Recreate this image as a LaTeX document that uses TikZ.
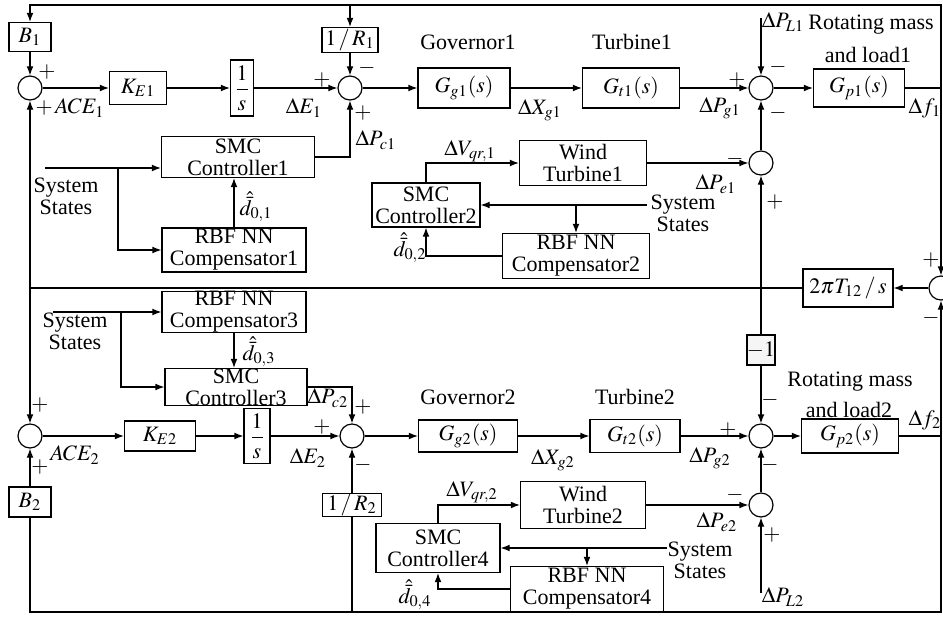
\documentclass[tikz,border=0pt]{standalone}
\usepackage{amsmath}
\usepackage{mathptmx}
\usepackage{fontspec}
\setmainfont{Liberation Serif}
\usetikzlibrary{arrows.meta}
\newcommand{\arrtip}{-{Latex[length=4.5pt,width=3.4pt]}}
\tikzset{
  blk/.style 2 args={draw, minimum width=#1, minimum height=#2, inner sep=0pt,
    align=center, font=\fontsize{11}{11}\selectfont},
  sumj/.style={draw, circle, minimum size=12pt, inner sep=0pt},
  lbl/.style={inner sep=0pt, align=center, font=\fontsize{11}{11}\selectfont},
}

\begin{document}
\begin{tikzpicture}[x=.5pt,y=-.5pt,line width=.6pt]
\useasboundingbox (0,0) rectangle (943,617);
% frame corners
\coordinate (tl) at (30,5);
\coordinate (tr) at (941,5);
\coordinate (bl) at (30,612);
\coordinate (br) at (941,612);
\coordinate (df1) at (941,88);
\coordinate (df2) at (941,436);
\coordinate (tj) at (30,288);
\coordinate (vj) at (761,288);
\coordinate (pl1) at (761,18);
\coordinate (pl2) at (761,593);

%area 1
\node[blk={21pt}{14.5pt}] (B1) at (30,37) {$B_1$};
\node[sumj] (s1) at (30,88) {};
\node[blk={28.5pt}{16.5pt}] (KE1) at (138,88) {$K_{E1}$};
\node[blk={11.5pt}{28pt}] (int1) at (242,88) {$\dfrac{1}{s}$};
\node[blk={28pt}{12.5pt}] (invR1) at (350,40) {$1\,/\,R_1$};
\node[sumj] (s2) at (350,88) {};
\node[blk={46pt}{20pt}] (Gg1) at (464,88) {$G_{g1}(s)$};
\node[blk={48.5pt}{20pt}] (Gt1) at (631,88) {$G_{t1}(s)$};
\node[sumj] (s3) at (761,88) {};
\node[blk={45.5pt}{19pt}] (Gp1) at (859,88) {$G_{p1}(s)$};
\node[sumj] (s4) at (761,163) {};
\node[blk={76.5pt}{20.5pt}] (SMC1) at (238,157) {SMC\\Controller1};
\node[blk={72pt}{22pt}] (RBF1) at (234,250) {RBF NN\\Compensator1};
\node[blk={63.5pt}{22.5pt}] (WT1) at (583,163) {Wind\\Turbine1};
\node[blk={54pt}{22pt}] (SMC2) at (426,205) {SMC\\Controller2};
\node[blk={73.5pt}{22.5pt}] (RBF2) at (576,256) {RBF NN\\Compensator2};
\node[lbl] (ss1) at (66,196) {System\\States};
\node[lbl] (ss2) at (683,213) {System\\States};
\coordinate (ss1in) at (45,168);
\coordinate (br1) at (118,168);
\coordinate (ss2in) at (647,205);

%tie line
\node[blk={45pt}{19pt}] (tie) at (848,288) {$2\pi T_{12}\,/\,s$};
\node[sumj] (stie) at (941,288) {};
\node[blk={13.5pt}{15pt}, fill=gray!8] (neg1) at (761,350) {$-1$};

%area 2
\node[sumj] (s8) at (30,436) {};
\node[blk={21pt}{15pt}] (B2) at (30,502) {$B_2$};
\node[blk={35.5pt}{15pt}] (KE2) at (160,436) {$K_{E2}$};
\node[blk={13pt}{27.5pt}] (int2) at (257,436) {$\dfrac{1}{s}$};
\node[sumj] (s7) at (352,436) {};
\node[blk={29.5pt}{11.5pt}] (invR2) at (352,505) {$1\,/\,R_2$};
\node[blk={49.5pt}{16pt}] (Gg2) at (468,436) {$G_{g2}(s)$};
\node[blk={45pt}{16.5pt}] (Gt2) at (635,436) {$G_{t2}(s)$};
\node[sumj] (s5) at (761,436) {};
\node[blk={48.5pt}{17pt}] (Gp2) at (850,436) {$G_{p2}(s)$};
\node[sumj] (s6) at (761,505) {};
\node[blk={72pt}{19.5pt}] (RBF3) at (234,312) {RBF NN\\Compensator3};
\node[blk={71pt}{18.5pt}] (SMC3) at (236,387) {SMC\\Controller3};
\node[blk={62.5pt}{23.5pt}] (WT2) at (583,505) {Wind\\Turbine2};
\node[blk={62pt}{24.5pt}] (SMC4) at (438,548) {SMC\\Controller4};
\node[blk={76.5pt}{22.5pt}] (RBF4) at (587,589) {RBF NN\\Compensator4};
\node[lbl] (ss3) at (75,331) {System\\States};
\node[lbl] (ss4) at (700,560) {System\\States};
\coordinate (ss3in) at (53,312);
\coordinate (br3) at (121,312);
\coordinate (ss4in) at (667,548);

%connectors area 1
\draw (Gp1) -- (df1);
\draw[\arrtip] (df1) -- (tr) -- (tl) -- (B1);
\draw[\arrtip] (invR1 |- tl) -- (invR1);
\draw[\arrtip] (B1) -- (s1);
\draw[\arrtip] (s1) -- (KE1);
\draw[\arrtip] (KE1) -- (int1);
\draw[\arrtip] (int1) -- (s2);
\draw[\arrtip] (invR1) -- (s2);
\draw[\arrtip] (s2) -- (Gg1);
\draw[\arrtip] (Gg1) -- (Gt1);
\draw[\arrtip] (Gt1) -- (s3);
\draw[\arrtip] (s3) -- (Gp1);
\draw[\arrtip] (pl1) -- (s3);
\draw[\arrtip] (s4) -- (s3);
\draw[\arrtip] (WT1) -- (s4);
\draw[\arrtip] (SMC1.east) -| (s2.south);
\draw[\arrtip] (ss1in) -- (SMC1.west |- ss1in);
\draw[\arrtip] (br1) |- (RBF1.west);
\draw[\arrtip] (RBF1.north) -- (RBF1.north |- SMC1.south);
\draw[\arrtip] (SMC2.north) |- (WT1.west);
\draw[\arrtip] (ss2in) -- (SMC2.east);
\draw[\arrtip] (RBF2.north |- SMC2.east) -- (RBF2.north);
\draw[\arrtip] (RBF2.west) -| (SMC2.south);

%connectors tie line
\draw[\arrtip] (df1) -- (stie);
\draw[\arrtip] (df2) -- (stie);
\draw[\arrtip] (stie) -- (tie);
\draw (tie) -- (tj);
\draw[\arrtip] (tj) -- (s1);
\draw[\arrtip] (tj) -- (s8);
\draw[\arrtip] (vj) -- (s4);
\draw (vj) -- (neg1);
\draw[\arrtip] (neg1) -- (s5);

%connectors area 2
\draw (Gp2) -- (df2) -- (br) -- (bl) -- (B2);
\draw[\arrtip] (B2) -- (s8);
\draw[\arrtip] (s8) -- (KE2);
\draw[\arrtip] (KE2) -- (int2);
\draw[\arrtip] (int2) -- (s7);
\draw (invR2 |- bl) -- (invR2);
\draw[\arrtip] (invR2) -- (s7);
\draw[\arrtip] (s7) -- (Gg2);
\draw[\arrtip] (Gg2) -- (Gt2);
\draw[\arrtip] (Gt2) -- (s5);
\draw[\arrtip] (s5) -- (Gp2);
\draw[\arrtip] (s6) -- (s5);
\draw[\arrtip] (WT2) -- (s6);
\draw[\arrtip] (pl2) -- (s6);
\draw[\arrtip] (SMC3.east) -| (s7.north);
\draw[\arrtip] (ss3in) -- (RBF3.west);
\draw[\arrtip] (br3) |- (SMC3.west);
\draw[\arrtip] (RBF3.south) -- (RBF3.south |- SMC3.north);
\draw[\arrtip] (SMC4.north) |- (WT2.west);
\draw[\arrtip] (ss4in) -- (SMC4.east);
\draw[\arrtip] (RBF4.north |- SMC4.east) -- (RBF4.north);
\draw[\arrtip] (RBF4.west) -| (SMC4.south);

%labels area 1
\node[lbl] at (47,72) {$+$};
\node[lbl] at (70,108) {$+\,ACE_1$};
\node[lbl] at (304,108) {$\Delta E_1$};
\node[lbl] at (322,80) {$+$};
\node[lbl] at (367,68) {$-$};
\node[lbl] at (363,113) {$+$};
\node[lbl] at (376,140) {$\Delta P_{c1}$};
\node[lbl] at (468,42) {Governor1};
\node[lbl] at (632,42) {Turbine1};
\node[lbl] at (540,110) {$\Delta X_{g1}$};
\node[lbl] at (737,80) {$+$};
\node[lbl] at (720,108) {$\Delta P_{g1}$};
\node[lbl] at (783,22) {$\Delta P_{L1}$};
\node[lbl] at (871,25) {Rotating mass};
\node[lbl] at (868,55) {and load1};
\node[lbl] at (778,67) {$-$};
\node[lbl] at (778,113) {$-$};
\node[lbl] at (925,108) {$\Delta f_1$};
\node[lbl] at (735,159) {$-$};
\node[lbl] at (716,184) {$\Delta P_{e1}$};
\node[lbl] at (775,202) {$+$};
\node[lbl] at (470,151) {$\Delta V_{qr,1}$};
\node[lbl] at (410,248) {$\hat{\bar{d}}_{0,2}$};
\node[lbl] at (256,207) {$\hat{\bar{d}}_{0,1}$};
\node[lbl] at (931,260) {$+$};
\node[lbl] at (931,318) {$-$};

%labels area 2
\node[lbl] at (40,405) {$+$};
\node[lbl] at (40,467) {$+$};
\node[lbl] at (75,455) {$ACE_2$};
\node[lbl] at (308,458) {$\Delta E_2$};
\node[lbl] at (322,427) {$+$};
\node[lbl] at (363,407) {$+$};
\node[lbl] at (328,398) {$\Delta P_{c2}$};
\node[lbl] at (363,465) {$-$};
\node[lbl] at (468,397) {Governor2};
\node[lbl] at (635,397) {Turbine2};
\node[lbl] at (553,460) {$\Delta X_{g2}$};
\node[lbl] at (728,430) {$+$};
\node[lbl] at (710,458) {$\Delta P_{g2}$};
\node[lbl] at (770,400) {$-$};
\node[lbl] at (850,382) {Rotating mass};
\node[lbl] at (849,410) {and load2};
\node[lbl] at (925,420) {$\Delta f_2$};
\node[lbl] at (770,465) {$-$};
\node[lbl] at (735,495) {$-$};
\node[lbl] at (717,522) {$\Delta P_{e2}$};
\node[lbl] at (772,535) {$+$};
\node[lbl] at (783,597) {$\Delta P_{L2}$};
\node[lbl] at (472,492) {$\Delta V_{qr,2}$};
\node[lbl] at (415,595) {$\hat{\bar{d}}_{0,4}$};
\node[lbl] at (259,352) {$\hat{\bar{d}}_{0,3}$};
\end{tikzpicture}
\end{document}
